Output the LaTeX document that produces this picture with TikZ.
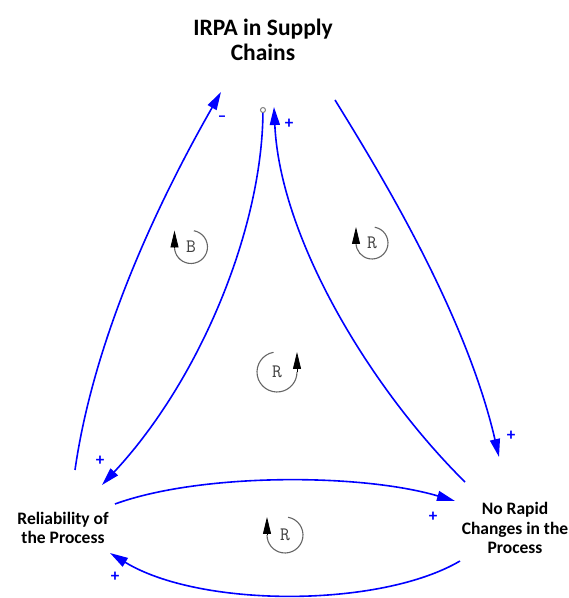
\documentclass[tikz,border=0pt]{standalone}
\usepackage{fontspec}
\setmainfont{Carlito}
\usetikzlibrary{arrows.meta}
\tikzset{title/.style={font=\bfseries\fontsize{23.5}{25}\selectfont,align=center,inner sep=0pt}}
\tikzset{varnode/.style={font=\bfseries\fontsize{17.5}{19.5}\selectfont,align=center,inner sep=0pt}}
\tikzset{link/.style={draw=blue,line width=1.6pt,-{Triangle[length=18pt,width=10pt]}}}
\tikzset{sign/.style={text=blue,font=\bfseries\fontsize{17}{17}\selectfont,inner sep=0pt}}
\tikzset{loopletter/.style={text=black!75,font=\ttfamily\fontsize{19}{19}\selectfont,inner sep=0pt}}
\tikzset{looparc/.style={draw=black!60,line width=1.1pt}}
\tikzset{loophead/.style={draw=black,line width=0.8pt,-{Triangle[length=17pt,width=8pt]}}}
% loop sign, arrow on the left
\newcommand{\loopleft}[4]{%
  \begin{scope}[shift={(#1)}]
    \node[loopletter](#4){#3};
    \draw[looparc](80:#2) arc (80:-180:#2);
    \draw[loophead](180:#2) -- ++(0,#2);
  \end{scope}}
% loop sign, arrow on the right
\newcommand{\loopright}[4]{%
  \begin{scope}[shift={(#1)}]
    \node[loopletter](#4){#3};
    \draw[looparc](100:#2) arc (100:360:#2);
    \draw[loophead](0:#2) -- ++(0,#2);
  \end{scope}}

\begin{document}
\begin{tikzpicture}[x=1pt,y=1pt]
\useasboundingbox (0,0) rectangle (569,598);
\node[title](irpa) at (263,558){IRPA in Supply\\Chains};
\node[varnode](rel) at (63,70){Reliability of\\the Process};
\node[varnode](chg) at (515,70){No Rapid\\Changes in the\\Process};
\draw[link]([shift={(12,58)}]rel.center) .. controls +(20,140) and +(-56,-98) .. ([shift={(-42,-52)}]irpa.center)
  node[sign,at end,xshift=1pt,yshift=-27pt](s1){–};
\draw[link,{Circle[open,length=6pt,color=gray,line width=1pt]}-{Triangle[length=18pt,width=10pt]}]
  ([shift={(0,-67)}]irpa.center) .. controls +(-1,-122) and +(98,105) .. ([shift={(39,43)}]rel.center)
  node[sign,at end,xshift=-2pt,yshift=24pt](s2){+};
\draw[link]([shift={(-50,46)}]chg.center) .. controls +(-95,94) and +(6,-131) .. ([shift={(11,-67)}]irpa.center)
  node[sign,at end,xshift=15pt,yshift=-17pt](s3){+};
\draw[link]([shift={(72,-60)}]irpa.center) .. controls +(40,-65) and +(-34,147) .. ([shift={(-16,71)}]chg.center)
  node[sign,at end,xshift=12pt,yshift=21pt](s4){+};
\draw[link]([shift={(52,24)}]rel.center) .. controls +(85,31) and +(-95,28) .. ([shift={(-60,27)}]chg.center)
  node[sign,at end,xshift=-22pt,yshift=-16pt](s5){+};
\draw[link]([shift={(-55,-33)}]chg.center) .. controls +(-80,-47) and +(90,-55) .. ([shift={(47,-25)}]rel.center)
  node[sign,at end,xshift=5pt,yshift=-24pt](s6){+};
\loopleft{191,351}{16.5}{B}{loopb}
\loopleft{372,355}{16}{R}{loopr1}
\loopright{277,226}{20}{R}{loopr2}
\loopleft{285,63}{18}{R}{loopr3}
\end{tikzpicture}
\end{document}
